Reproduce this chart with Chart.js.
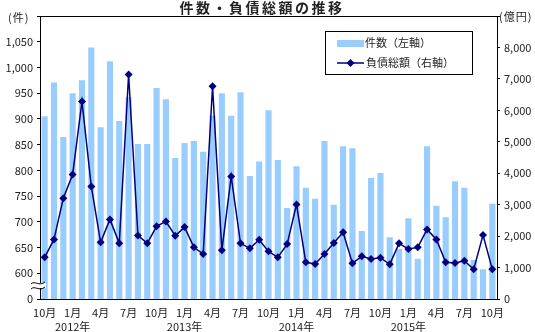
<!DOCTYPE html>
<html><head><meta charset="utf-8">
<script src="https://cdn.jsdelivr.net/npm/chart.js@4"></script>
<style>html,body{margin:0;padding:0;background:#fff}#wrap{width:535px;height:332px;position:relative}</style>
</head><body><div id="wrap"><canvas id="c" width="535" height="332"></canvas></div>
<script>
const months = ['10月','11月','12月','1月','2月','3月','4月','5月','6月','7月','8月','9月',
  '10月','11月','12月','1月','2月','3月','4月','5月','6月','7月','8月','9月',
  '10月','11月','12月','1月','2月','3月','4月','5月','6月','7月','8月','9月',
  '10月','11月','12月','1月','2月','3月','4月','5月','6月','7月','8月','9月','10月'];
const yearAt = {3:'2012年',15:'2013年',27:'2014年',39:'2015年'};
const counts = [905,971,865,950,975,1039,884,1012,896,942,851,851,
  960,938,824,853,857,836,906,950,906,952,789,817,
  917,820,727,808,766,745,857,733,847,843,682,785,
  795,670,647,707,628,847,731,709,779,766,626,608,735];
const debt = [1325,1896,3208,3961,6280,3580,1801,2532,1769,7138,2023,1769,
  2310,2468,2011,2287,1642,1430,6766,1547,3898,1769,1610,1884,
  1515,1325,1747,3008,1166,1112,1430,1779,2119,1134,1356,1271,
  1313,1102,1769,1588,1642,2214,1896,1166,1144,1217,943,2033,943];
const leftTicks = {min:550, max:1100, step:50};
const rightTicks = {min:0, max:9000, step:1000};
const titleText = '件数・負債総額の推移';
const leftUnit = '(件)';
const rightUnit = '(億円)';
const legendCount = '件数（左軸）';
const legendDebt = '負債総額（右軸）';

const FONT = '"Noto Sans CJK JP","Noto Sans",sans-serif';
const BAR = '#99ccff', LINE = '#000080', TXT = '#222';

const extras = {
  id:'extras',
  afterDraw(chart){
    const ctx = chart.ctx, a = chart.chartArea;
    ctx.save();
    ctx.strokeStyle = '#000'; ctx.lineWidth = 1;
    ctx.beginPath(); ctx.moveTo(a.left, a.top+0.5); ctx.lineTo(a.right, a.top+0.5); ctx.stroke();
    ctx.fillStyle = TXT;
    ctx.font = 'bold 14px ' + FONT;
    ctx.letterSpacing = '2.5px';
    ctx.textAlign = 'center'; ctx.textBaseline = 'middle';
    ctx.fillText(titleText, 262, 8);
    ctx.letterSpacing = '1px';
    ctx.font = '11px ' + FONT;
    ctx.textAlign = 'left';
    ctx.fillText(leftUnit, 8, 18);
    ctx.fillText(rightUnit, 499, 17);
    ctx.letterSpacing = '0px';
    const bx = a.left, by = 286;
    ctx.fillStyle = '#fff';
    ctx.fillRect(bx-9, by-3, 15, 5);
    ctx.strokeStyle = '#000'; ctx.lineWidth = 1;
    for (const dy of [-3, 2]) {
      ctx.beginPath();
      ctx.moveTo(bx-9, by+dy+1);
      ctx.bezierCurveTo(bx-5, by+dy-3, bx-1, by+dy+4, bx+5, by+dy-1);
      ctx.stroke();
    }
    ctx.strokeStyle = '#000'; ctx.lineWidth = 1;
    ctx.fillStyle = '#fff';
    ctx.fillRect(325.5, 31.5, 147, 43);
    ctx.strokeRect(325.5, 31.5, 147, 43);
    ctx.fillStyle = BAR;
    ctx.fillRect(337, 40, 27, 7);
    ctx.strokeStyle = LINE; ctx.lineWidth = 1.5;
    ctx.beginPath(); ctx.moveTo(337, 63); ctx.lineTo(364, 63); ctx.stroke();
    ctx.fillStyle = LINE;
    ctx.beginPath(); ctx.moveTo(350.5, 59); ctx.lineTo(354.5, 63); ctx.lineTo(350.5, 67); ctx.lineTo(346.5, 63); ctx.closePath(); ctx.fill();
    ctx.fillStyle = TXT;
    ctx.font = '11px ' + FONT;
    ctx.textBaseline = 'middle';
    ctx.fillText(legendCount, 365, 43);
    ctx.fillText(legendDebt, 366, 63);
    ctx.restore();
  }
};

new Chart(document.getElementById('c'), {
  data: {
    labels: months,
    datasets: [
      {type:'line', label:legendDebt, data:debt, yAxisID:'y2', borderColor:LINE, backgroundColor:LINE,
       borderWidth:1.5, pointStyle:'rectRot', pointRadius:4, pointHoverRadius:4, pointBorderWidth:0, tension:0, order:0},
      {type:'bar', label:legendCount, data:counts, yAxisID:'y', backgroundColor:BAR,
       barPercentage:0.66, categoryPercentage:1, order:1}
    ]
  },
  options: {
    responsive:false, animation:false,
    layout:{padding:{top:16, left:0, right:0, bottom:0}},
    plugins:{legend:{display:false}, title:{display:false}, tooltip:{enabled:false}},
    scales:{
      x:{
        grid:{display:false, drawTicks:false},
        border:{display:true, color:'#000', width:1},
        ticks:{autoSkip:false, maxRotation:0, minRotation:0, padding:7, color:TXT,
          font:{family:FONT, size:11, lineHeight:1.25},
          callback:(v,i)=> i%3===0 ? [months[i], yearAt[i]||''] : ''},
        afterFit:s=>{s.height=33;}
      },
      y:{
        position:'left', min:leftTicks.min, max:leftTicks.max,
        ticks:{stepSize:leftTicks.step, color:TXT, padding:4, font:{family:FONT, size:11},
          callback:v=> v===leftTicks.min ? '0' : (v===leftTicks.max ? '' : v.toLocaleString('en-US'))},
        grid:{drawOnChartArea:false, tickLength:3, color:'#000'},
        border:{color:'#000', width:1},
        afterFit:s=>{s.width=40;}
      },
      y2:{
        position:'right', min:rightTicks.min, max:rightTicks.max,
        ticks:{stepSize:rightTicks.step, color:TXT, padding:4, font:{family:FONT, size:11},
          callback:v=> v===rightTicks.max ? '' : v.toLocaleString('en-US')},
        grid:{drawOnChartArea:false, tickLength:3, color:'#000'},
        border:{color:'#000', width:1},
        afterFit:s=>{s.width=38;}
      }
    }
  },
  plugins:[extras]
});
</script>
</body></html>
